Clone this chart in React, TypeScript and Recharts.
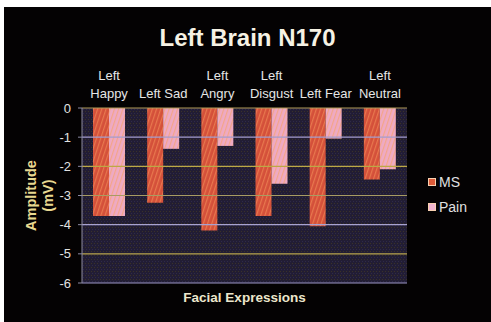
import React from 'react';
import { BarChart, Bar, XAxis, YAxis, CartesianGrid, ReferenceLine, Legend } from 'recharts';

const categories = ['Left Happy', 'Left Sad', 'Left Angry', 'Left Disgust', 'Left Fear', 'Left Neutral'];
const msValues = [-3.7, -3.25, -4.2, -3.7, -4.05, -2.45];
const painValues = [-3.7, -1.4, -1.3, -2.6, -1.05, -2.1];
const yTicks = [0, -1, -2, -3, -4, -5, -6];
// gridline colours alternate between tan and lavender
const gridColors = ['#b09a58', '#a49ccc', '#bca846', '#a89c62', '#a8a2d0', '#b8a44a', '#9c96c8'];

const data = categories.map((name, i) => ({ name, MS: msValues[i], Pain: painValues[i] }));

const FONT = '"Liberation Sans", Arial, sans-serif';

const CategoryTick = ({ x, y, payload }: any) => {
  const label: string = payload.value;
  const lines = label.length > 9 ? label.split(' ') : [label];
  const base = y - 2;
  return (
    <text x={x} textAnchor="middle" fontSize={13} fill="#e6e6e6" fontFamily={FONT}>
      {lines.map((l, i) => (
        <tspan key={i} x={x} y={base - (lines.length - 1 - i) * 18}>
          {l}
        </tspan>
      ))}
    </text>
  );
};

const YTitle = ({ viewBox }: any) => {
  const cy = viewBox.y + viewBox.height / 2;
  const cx = 36;
  return (
    <text
      transform={`rotate(-90, ${cx}, ${cy})`}
      x={cx}
      y={cy}
      textAnchor="middle"
      fontSize={14.5}
      fontWeight="bold"
      fill="#e8d890"
      fontFamily={FONT}
    >
      <tspan x={cx} dy={-4}>Amplitude</tspan>
      <tspan x={cx} dy={17}>(mV)</tspan>
    </text>
  );
};

const XTitle = ({ viewBox }: any) => (
  <text
    x={viewBox.x + viewBox.width / 2}
    y={viewBox.y + 19}
    textAnchor="middle"
    fontSize={13.5}
    fontWeight="bold"
    fill="#ece6cc"
    fontFamily={FONT}
  >
    Facial Expressions
  </text>
);

const LegendBox = ({ payload }: any) => (
  <div style={{ fontFamily: FONT, fontSize: 14, color: '#e0e0e0' }}>
    {payload.map((p: any) => (
      <div key={p.value} style={{ display: 'flex', alignItems: 'center', height: 25 }}>
        <span
          style={{
            display: 'inline-block',
            width: 6,
            height: 6,
            background: p.value === 'MS' ? '#dc5a38' : '#f0b4d0',
            border: '1px solid #f8d0b0',
            marginRight: 3,
          }}
        />
        {p.value}
      </div>
    ))}
  </div>
);

export default function App() {
  return (
    <div style={{ position: 'absolute', left: 0, top: 0, width: 491, height: 322, background: '#fff' }}>
      <div style={{ position: 'absolute', left: 4, top: 7, width: 487, height: 315, background: '#040203' }}>
        <div
          style={{
            position: 'absolute',
            left: 0,
            top: 19,
            width: '100%',
            textAlign: 'center',
            fontFamily: FONT,
            fontWeight: 'bold',
            fontSize: 24,
            lineHeight: '24px',
            color: '#f6f2e4',
          }}
        >
          Left Brain N170
        </div>
        <BarChart
          width={487}
          height={315}
          data={data}
          margin={{ top: 60, right: 24, bottom: 0, left: 0 }}
          barGap={0}
          barCategoryGap="20%"
        >
          <defs>
            <pattern id="bgTex" width="3" height="4" patternUnits="userSpaceOnUse">
              <rect width="3" height="4" fill="#221d34" />
              <rect x="0" y="0" width="1" height="1" fill="#3a3228" />
              <rect x="1" y="2" width="1" height="1" fill="#2e2a4a" />
            </pattern>
            <pattern id="msTex" width="4" height="8" patternUnits="userSpaceOnUse" patternTransform="rotate(18)">
              <rect width="4" height="8" fill="#d4503a" />
              <rect width="1.2" height="8" fill="#e8784e" />
            </pattern>
            <pattern id="painTex" width="4" height="8" patternUnits="userSpaceOnUse" patternTransform="rotate(18)">
              <rect width="4" height="8" fill="#eeaac4" />
              <rect width="1.2" height="8" fill="#f4a488" />
            </pattern>
          </defs>
          <CartesianGrid horizontal={false} vertical={false} fill="url(#bgTex)" />
          <XAxis
            dataKey="name"
            orientation="top"
            height={41}
            axisLine={false}
            tickLine={false}
            interval={0}
            tick={<CategoryTick />}
          />
          <XAxis
            xAxisId="bottom"
            dataKey="name"
            orientation="bottom"
            height={39}
            axisLine={false}
            tickLine={false}
            tick={false}
            label={<XTitle />}
          />
          <YAxis
            domain={[-6, 0]}
            ticks={yTicks}
            interval={0}
            width={78}
            axisLine={{ stroke: '#8c8aa4' }}
            tickLine={{ stroke: '#8c8aa4' }}
            tickSize={4}
            tickMargin={7}
            tick={{ fill: '#e2e2e2', fontSize: 13, fontFamily: FONT }}
            label={<YTitle />}
          />
          {yTicks.map((t, i) => (
            <ReferenceLine key={t} y={t} stroke={gridColors[i]} strokeWidth={1.2} />
          ))}
          <Bar dataKey="MS" fill="url(#msTex)" barSize={16} isAnimationActive={false} />
          <Bar dataKey="Pain" fill="url(#painTex)" barSize={16} isAnimationActive={false} />
          <Legend
            layout="vertical"
            align="right"
            verticalAlign="middle"
            content={<LegendBox />}
            wrapperStyle={{ position: 'absolute', left: 424, top: 162, width: 60 }}
          />
        </BarChart>
      </div>
    </div>
  );
}
